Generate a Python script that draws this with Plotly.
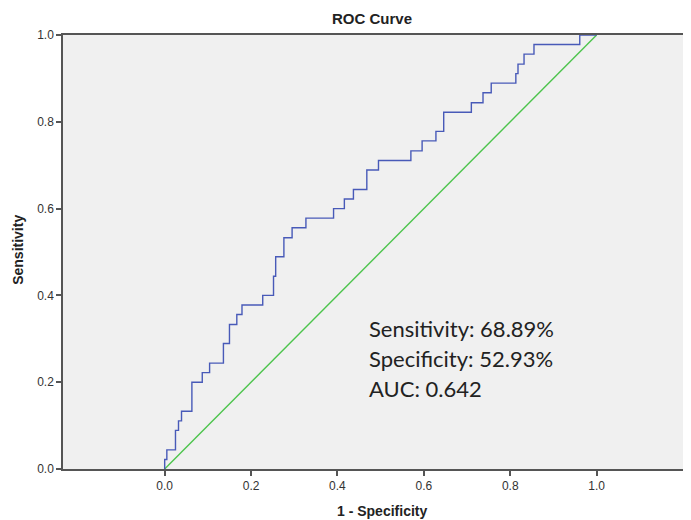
import plotly.graph_objects as go

# ROC curve step vertices (1 - specificity, sensitivity)
fpr = [0.0, 0.0, 0.005, 0.025, 0.032, 0.039, 0.063, 0.087, 0.104, 0.136, 0.150,
       0.167, 0.179, 0.227, 0.252, 0.257, 0.276, 0.295, 0.327, 0.391, 0.416,
       0.437, 0.468, 0.495, 0.570, 0.596, 0.628, 0.646, 0.710, 0.737, 0.756,
       0.813, 0.818, 0.832, 0.855, 0.961, 1.0]
tpr = [0.0, 0.022, 0.044, 0.089, 0.111, 0.133, 0.200, 0.222, 0.244, 0.289, 0.333,
       0.356, 0.378, 0.400, 0.444, 0.489, 0.533, 0.556, 0.578, 0.600, 0.622,
       0.644, 0.689, 0.711, 0.733, 0.756, 0.778, 0.822, 0.844, 0.867, 0.889,
       0.911, 0.933, 0.956, 0.978, 1.000, 1.0]

ref_x = [0.0, 1.0]
ref_y = [0.0, 1.0]

x_ticks = [0.0, 0.2, 0.4, 0.6, 0.8, 1.0]
y_ticks = [0.0, 0.2, 0.4, 0.6, 0.8, 1.0]
x_tick_labels = ["0.0", "0.2", "0.4", "0.6", "0.8", "1.0"]
y_tick_labels = ["0.0", "0.2", "0.4", "0.6", "0.8", "1.0"]

stats_lines = ["Sensitivity: 68.89%", "Specificity: 52.93%", "AUC: 0.642"]

fig = go.Figure()
fig.add_trace(go.Scatter(x=ref_x, y=ref_y, mode="lines",
                         line=dict(color="rgb(76,196,76)", width=1.4),
                         hoverinfo="skip", showlegend=False))
fig.add_trace(go.Scatter(x=fpr, y=tpr, mode="lines", line_shape="hv",
                         line=dict(color="rgb(72,90,184)", width=1.4),
                         showlegend=False))

axis_font = dict(family="Liberation Sans, Arial, sans-serif", size=12, color="#333333")

fig.update_xaxes(range=[-0.2354, 1.2139], tickvals=x_ticks, ticktext=x_tick_labels,
                 ticks="outside", ticklen=5, tickwidth=1.5, tickcolor="#555555",
                 showline=True, linecolor="#555555", linewidth=1.5, mirror=True,
                 showgrid=False, zeroline=False, tickfont=axis_font)
fig.update_yaxes(range=[0, 1], tickvals=y_ticks, ticktext=y_tick_labels,
                 ticks="outside", ticklen=5, tickwidth=1.5, tickcolor="#555555",
                 showline=True, linecolor="#555555", linewidth=1.5, mirror=True,
                 showgrid=False, zeroline=False, tickfont=axis_font)

title_font = dict(family="Liberation Sans Narrow, Liberation Sans, Arial, sans-serif",
                  size=15, color="#222222")
axis_title_font = dict(family="Liberation Sans, Arial, sans-serif", size=14, color="#222222")
annotations = [
    dict(text="<b>ROC Curve</b>", xref="paper", yref="paper", x=0.5, y=1,
         xshift=-4, yshift=17, showarrow=False, xanchor="center", yanchor="middle",
         font=title_font),
    dict(text="<b>1 - Specificity</b>", xref="paper", yref="paper", x=0.5, y=0,
         xshift=6, yshift=-42, showarrow=False, xanchor="center", yanchor="middle",
         font=axis_title_font),
    dict(text="<b>Sensitivity</b>", xref="paper", yref="paper", x=0, y=0.505,
         xshift=-45, showarrow=False, xanchor="center", yanchor="middle", textangle=-90,
         font=axis_title_font),
]
for i, s in enumerate(stats_lines):
    annotations.append(dict(text=s, xref="x", yref="y", x=0.469, y=0.323 - 0.0685 * i,
                            showarrow=False, xanchor="left", yanchor="middle",
                            font=dict(family="Lato, sans-serif", size=22, color="#222222")))

fig.update_layout(width=683, height=512,
                  margin=dict(l=55, r=0, t=27, b=51),
                  plot_bgcolor="#f0f0f0", paper_bgcolor="white",
                  annotations=annotations, showlegend=False)

fig.write_html("out.html")
